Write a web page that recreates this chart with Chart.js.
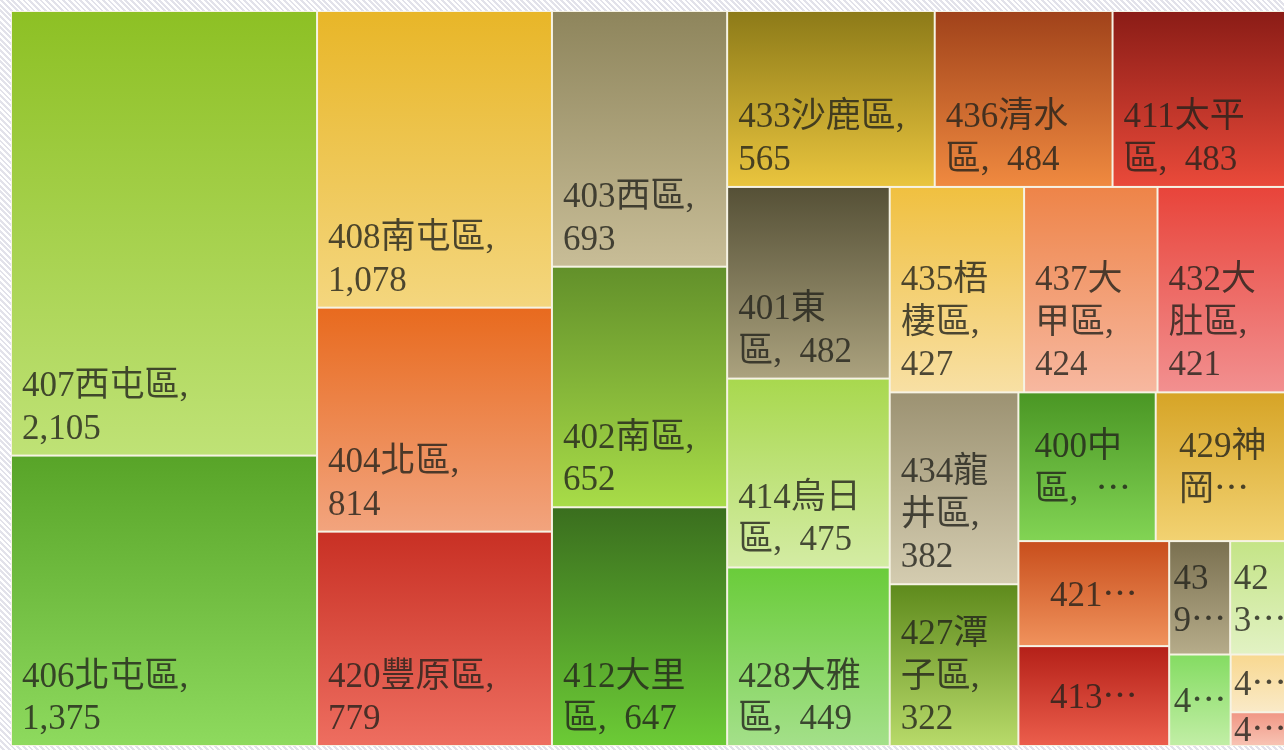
<!DOCTYPE html>
<html>
<head>
<meta charset="utf-8">
<script src="https://cdn.jsdelivr.net/npm/chart.js@4.4.1/dist/chart.umd.min.js"></script>
<style>
  html, body { margin: 0; padding: 0; overflow: hidden; }
  body {
    width: 1284px; height: 750px;
    background: repeating-linear-gradient(45deg, #ffffff 0px, #ffffff 2px, #e2e2ea 2px, #e2e2ea 4px);
  }
  canvas { display: block; }
</style>
</head>
<body>
<canvas id="treemap" width="1296" height="750"></canvas>
<script>
'use strict';

// districts (postcode + name) and their counts, largest first
var districts = ['407西屯區', '406北屯區', '408南屯區', '404北區', '420豐原區', '403西區', '402南區',
  '412大里區', '433沙鹿區', '436清水區', '411太平區', '401東區', '414烏日區', '428大雅區', '435梧棲區',
  '437大甲區', '432大肚區', '434龍井區', '427潭子區', '400中區', '429神岡區', '421后里區', '413霧峰區',
  '439大安區', '423東勢區', '426新社區', '438外埔區', '424和平區'];
var counts = [2105, 1375, 1078, 814, 779, 693, 652, 647, 565, 484, 483, 482, 475, 449, 427,
  424, 421, 382, 322, 316, 309, 245, 233, 107, 105, 87, 53, 31];

// gradient per tile: [top, bottom]
var tileColors = [
  ['#8dc024', '#bfe276'], ['#58a428', '#8eda5e'], ['#e8b628', '#f4d67e'], ['#e86a1e', '#f2a47e'],
  ['#c83024', '#ee6e60'], ['#8e855c', '#c8bd97'], ['#62902a', '#a8dc48'], ['#3a6e1e', '#6ccb36'],
  ['#8c7a18', '#eac53e'], ['#a0421a', '#f08a40'], ['#8a1c16', '#ea4a3a'], ['#555036', '#aba27e'],
  ['#a8d84e', '#d4eca4'], ['#6acc3a', '#a4e08a'], ['#f0c040', '#f8e0a4'], ['#ee8448', '#f7b8a0'],
  ['#e8443a', '#f29090'], ['#9c9272', '#d4ccb0'], ['#5e8a1c', '#b8da6a'], ['#4a9624', '#82d454'],
  ['#d6a426', '#f2d272'], ['#c84e1c', '#f0925c'], ['#b42018', '#ec5e4c'], ['#7a7050', '#b6ac8a'],
  ['#c4e486', '#e2f2c4'], ['#84dc62', '#c2eea6'], ['#f8d890', '#faeac8'], ['#f09684', '#f8c4b4']
];

var LAYOUT_W = 190, LAYOUT_H = 100;
var FONT_SIZE = 35, LINE_H = 42.5, ELLIPSIS = '\u22ef';

// squarified layout in data units
function worst(first, last, rowSum, side) {
  var s2 = side * side, t2 = rowSum * rowSum;
  return Math.max(s2 * first / t2, t2 / (s2 * last));
}

function squarify(values, x, y, w, h) {
  var order = values.map(function (v, k) { return k; }).sort(function (a, b) { return values[b] - values[a]; });
  var total = values.reduce(function (a, b) { return a + b; }, 0);
  var areas = order.map(function (k) { return values[k] * w * h / total; });
  var rects = [], i = 0;
  while (i < areas.length) {
    var side = Math.min(w, h);
    var row = [i], rowSum = areas[i];
    i++;
    while (i < areas.length &&
      worst(areas[row[0]], areas[i], rowSum + areas[i], side) <= worst(areas[row[0]], areas[row[row.length - 1]], rowSum, side)) {
      row.push(i);
      rowSum += areas[i];
      i++;
    }
    if (w >= h) {
      var cw = rowSum / h, cy = y;
      row.forEach(function (k) {
        var ch = areas[k] / cw;
        rects.push({ i: order[k], x0: x, y0: cy, x1: x + cw, y1: cy + ch });
        cy += ch;
      });
      x += cw; w -= cw;
    } else {
      var rh = rowSum / w, cx = x;
      row.forEach(function (k) {
        var rw = areas[k] / rh;
        rects.push({ i: order[k], x0: cx, y0: y, x1: cx + rw, y1: y + rh });
        cx += rw;
      });
      y += rh; h -= rh;
    }
  }
  return rects;
}

var cells = squarify(counts, 0, 0, LAYOUT_W, LAYOUT_H);

// label wrapping: half width for latin, full width for CJK
function textWidth(s) {
  var w = 0;
  for (var k = 0; k < s.length; k++) w += s.charCodeAt(k) < 0x2100 ? 0.5 : 1;
  return w * FONT_SIZE;
}

function tokenize(text) {
  var units = [];
  for (var k = 0; k < text.length; k++) {
    var ch = text[k], last = units[units.length - 1];
    if (ch === ' ' || ch === '\u2002') units.push({ s: ch, sp: true });
    else if (last && !last.sp && (ch === ',' || (ch.charCodeAt(0) < 128 && last.s.charCodeAt(last.s.length - 1) < 128))) last.s += ch;
    else units.push({ s: ch, sp: false });
  }
  return units;
}

function wrap(text, avail) {
  var lines = [], cur = '', w = 0;
  tokenize(text).forEach(function (u) {
    var uw = textWidth(u.s);
    if (u.sp) {
      if (cur) { cur += u.s; w += uw; }
      return;
    }
    if (cur && w + uw > avail) { lines.push(cur); cur = ''; w = 0; }
    if (uw > avail) {
      for (var k = 0; k < u.s.length; k++) {
        var cw = textWidth(u.s[k]);
        if (cur && w + cw > avail) { lines.push(cur); cur = ''; w = 0; }
        cur += u.s[k]; w += cw;
      }
    } else {
      cur += u.s; w += uw;
    }
  });
  if (cur) lines.push(cur);
  return lines;
}

function labelText(i) {
  return districts[i] + ',\u2002' + counts[i].toLocaleString('en-US');
}

function drawLabel(ctx, i, l, t, r, b) {
  var w = r - l, h = b - t;
  var avail = w - Math.min(30.5, w * 0.4);
  var lines = wrap(labelText(i), avail);
  var maxLines = Math.max(1, Math.floor((h - 24) / LINE_H));
  var truncated = lines.length > maxLines;
  if (truncated) {
    var rest = lines.slice(maxLines - 1).join('');
    while (rest.length > 1 && textWidth(rest + ELLIPSIS) > avail) rest = rest.slice(0, -1);
    lines = lines.slice(0, maxLines - 1).concat([rest + ELLIPSIS]);
  }
  ctx.save();
  ctx.beginPath();
  ctx.rect(l + 1, t + 1, w - 2, h - 2);
  ctx.clip();
  ctx.font = FONT_SIZE + "px 'Liberation Serif', 'Noto Sans CJK TC', serif";
  ctx.fillStyle = 'rgba(34,34,28,0.8)';
  ctx.textBaseline = 'alphabetic';
  ctx.textAlign = 'left';
  var x, y;
  if (truncated) {
    var blockW = Math.max.apply(null, lines.map(textWidth));
    x = (l + r) / 2 - blockW / 2;
    y = (t + b) / 2 - (lines.length - 1) * LINE_H / 2 + 12;
  } else {
    x = l + 11;
    y = b - 17 - (lines.length - 1) * LINE_H;
  }
  lines.forEach(function (line, n) { ctx.fillText(line, x, y + n * LINE_H); });
  ctx.restore();
}

var treemapPlugin = {
  id: 'treemapCells',
  beforeDatasetsDraw: function (chart) {
    var ctx = chart.ctx, xs = chart.scales.x, ys = chart.scales.y, area = chart.chartArea;
    ctx.save();
    ctx.fillStyle = '#f6f3e4';
    ctx.fillRect(area.left, area.top, area.right - area.left, area.bottom - area.top);
    cells.forEach(function (c) {
      var l = xs.getPixelForValue(c.x0), r = xs.getPixelForValue(c.x1);
      var t = ys.getPixelForValue(c.y0), b = ys.getPixelForValue(c.y1);
      var g = ctx.createLinearGradient(0, t, 0, b);
      g.addColorStop(0, tileColors[c.i][0]);
      g.addColorStop(1, tileColors[c.i][1]);
      ctx.fillStyle = g;
      ctx.fillRect(l + 1, t + 1, r - l - 2, b - t - 2);
    });
    cells.forEach(function (c) {
      drawLabel(ctx, c.i, xs.getPixelForValue(c.x0), ys.getPixelForValue(c.y0),
        xs.getPixelForValue(c.x1), ys.getPixelForValue(c.y1));
    });
    ctx.restore();
  }
};

new Chart(document.getElementById('treemap'), {
  type: 'scatter',
  data: {
    datasets: [{
      label: '件數',
      data: cells.map(function (c) { return { x: (c.x0 + c.x1) / 2, y: (c.y0 + c.y1) / 2 }; }),
      pointRadius: 0,
      pointHoverRadius: 0
    }]
  },
  options: {
    responsive: false,
    animation: false,
    devicePixelRatio: 1,
    layout: { padding: { left: 11, top: 11, right: 6, bottom: 4 } },
    scales: {
      x: { type: 'linear', min: 0, max: LAYOUT_W, display: false },
      y: { type: 'linear', min: 0, max: LAYOUT_H, reverse: true, display: false }
    },
    plugins: { legend: { display: false }, tooltip: { enabled: false } }
  },
  plugins: [treemapPlugin]
});
</script>
</body>
</html>
